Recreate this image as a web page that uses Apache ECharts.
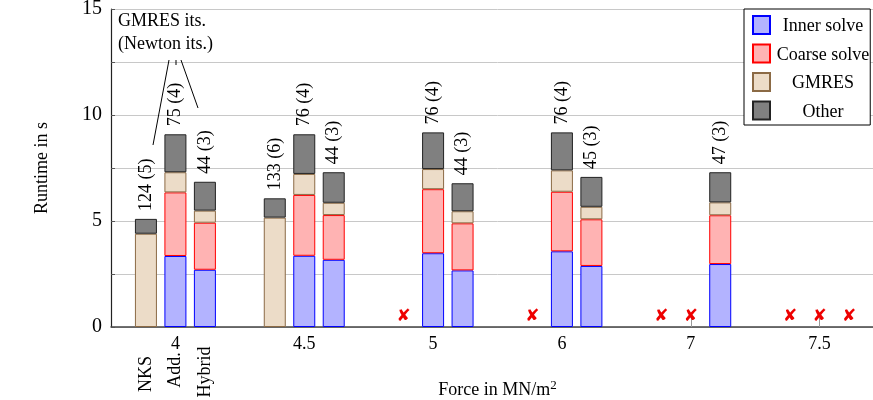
<!DOCTYPE html>
<html>
<head>
<meta charset="utf-8">
<script src="https://cdn.jsdelivr.net/npm/echarts@6/dist/echarts.min.js"></script>
<style>html,body{margin:0;padding:0;background:#fff;overflow:hidden;width:873px;height:400px}#c{width:885px;height:400px}</style>
</head>
<body>
<div id="c"></div>
<script>
// ---- data ----
const categories = ['4', '4.5', '5', '6', '7', '7.5'];
const methods = ['NKS', 'Add.', 'Hybrid'];
const components = ['Inner solve', 'Coarse solve', 'GMRES', 'Other'];
const yTicks = [0, 5, 10, 15];

// null = run failed (marked with a red cross)
const nksInner  = [null, null, null, null, null, null];
const nksCoarse = [null, null, null, null, null, null];
const nksGmres  = [4.40, 5.16, null, null, null, null];
const nksOther  = [0.70, 0.91, null, null, null, null];
const nksIts    = ['124 (5)', '133 (6)', null, null, null, null];

const addInner  = [3.35, 3.36, 3.48, 3.57, null, null];
const addCoarse = [3.00, 2.87, 3.02, 2.81, null, null];
const addGmres  = [0.95, 0.99, 0.95, 1.01, null, null];
const addOther  = [1.79, 1.87, 1.73, 1.79, null, null];
const addIts    = ['75 (4)', '76 (4)', '76 (4)', '76 (4)', null, null];

const hybInner  = [2.70, 3.17, 2.67, 2.88, 2.97, null];
const hybCoarse = [2.22, 2.11, 2.22, 2.20, 2.30, null];
const hybGmres  = [0.57, 0.58, 0.57, 0.59, 0.61, null];
const hybOther  = [1.36, 1.44, 1.32, 1.41, 1.42, null];
const hybIts    = ['44 (3)', '44 (3)', '44 (3)', '45 (3)', '47 (3)', null];

// ---- styling ----
const FONT = 'Liberation Serif';
const styles = {
  'Inner solve':  { color: '#b3b3ff', borderColor: '#0000ff' },
  'Coarse solve': { color: '#ffb3b3', borderColor: '#ff0000' },
  'GMRES':        { color: '#ecdcc8', borderColor: '#8b6a45' },
  'Other':        { color: '#808080', borderColor: '#222222' }
};

const stacks = [
  { name: methods[0], parts: [nksInner, nksCoarse, nksGmres, nksOther], its: nksIts },
  { name: methods[1], parts: [addInner, addCoarse, addGmres, addOther], its: addIts },
  { name: methods[2], parts: [hybInner, hybCoarse, hybGmres, hybOther], its: hybIts }
];

const series = [];
stacks.forEach(st => {
  components.forEach((comp, ci) => {
    const vals = st.parts[ci];
    const isTop = ci === components.length - 1;
    let data;
    if (isTop) {
      data = vals.map((v, i) => {
        if (v === null) {
          return {
            value: 0,
            itemStyle: { color: 'transparent', borderColor: 'transparent' },
            label: {
              show: true, formatter: '\u2718', rotate: 0, color: '#ee0000',
              fontSize: 17, fontFamily: 'DejaVu Sans',
              position: 'top', distance: 1, align: 'center', verticalAlign: 'bottom'
            }
          };
        }
        return { value: v, label: { show: true, formatter: st.its[i] } };
      });
    } else {
      data = vals.map(v => (v === null ? '-' : v));
    }
    series.push({
      type: 'bar',
      name: comp,
      stack: st.name,
      data: data,
      barWidth: 22,
      barGap: '34%',
      itemStyle: Object.assign({ borderWidth: 1 }, styles[comp]),
      emphasis: { disabled: true },
      label: isTop ? {
        show: true, position: 'top', rotate: 90, align: 'left', verticalAlign: 'middle',
        distance: 8, fontSize: 18, fontFamily: FONT, color: '#000'
      } : { show: false }
    });
  });
});

const chart = echarts.init(document.getElementById('c'), null, { renderer: 'canvas' });
chart.setOption({
  animation: false,
  backgroundColor: '#fff',
  textStyle: { fontFamily: FONT },
  grid: { left: 111, right: 1, top: 9, bottom: 73, containLabel: false, outerBoundsMode: 'none' },
  legend: {
    data: components,
    orient: 'vertical',
    left: 744, top: 9,
    padding: [6, 1, 4, 8],
    itemWidth: 17, itemHeight: 18, itemGap: 8,
    icon: 'rect',
    borderColor: '#000', borderWidth: 1,
    backgroundColor: '#fff',
    formatter: '{a|{name}}',
    textStyle: { fontFamily: FONT, fontSize: 18, color: '#000',
      rich: { a: { width: 96, align: 'center', fontSize: 18, fontFamily: FONT, color: '#000', padding: [3, 0, 0, 0] } } },
    selectedMode: false
  },
  xAxis: {
    type: 'category',
    data: categories,
    name: 'Force in MN/m{sup|2}',
    nameLocation: 'middle',
    nameGap: 52,
    nameTextStyle: { fontSize: 18, fontFamily: FONT, color: '#000',
      rich: { sup: { fontSize: 13, fontFamily: FONT, color: '#000', padding: [0, 0, 9, 0] } } },
    axisLine: { lineStyle: { color: '#444', width: 1.5 } },
    axisTick: { show: true, inside: true, alignWithLabel: true, length: 9, lineStyle: { color: '#999' } },
    axisLabel: { fontSize: 18, fontFamily: FONT, color: '#000', margin: 8 },
    splitLine: { show: false }
  },
  yAxis: {
    type: 'value',
    min: 0, max: 15, interval: 2.5,
    name: 'Runtime in s',
    nameLocation: 'middle',
    nameGap: 60,
    nameTextStyle: { fontSize: 18, fontFamily: FONT, color: '#000' },
    axisLine: { show: true, lineStyle: { color: '#222', width: 1.2 } },
    axisTick: { show: true, inside: true, length: 4, lineStyle: { color: '#555' } },
    axisLabel: {
      fontSize: 20, fontFamily: FONT, color: '#000', margin: 9,
      formatter: v => (yTicks.indexOf(v) >= 0 ? String(v) : '')
    },
    splitLine: { lineStyle: { color: '#c8c8c8', width: 1 } }
  },
  series: series
});

// method labels under the first group and the annotation
const base = chart.convertToPixel({ xAxisIndex: 0 }, categories[0]);
const offs = [-29.5, 0, 29.5];
const methodY = [374, 370, 372];
const graphics = methods.map((m, i) => ({
  type: 'text',
  x: base + offs[i], y: methodY[i],
  rotation: Math.PI / 2,
  style: { text: m, fontSize: 18, fontFamily: FONT, fill: '#000', align: 'center', verticalAlign: 'middle' },
  z: 100
}));
graphics.push({
  type: 'text', left: 118, top: 10,
  style: { text: 'GMRES its.\n(Newton its.)', fontSize: 18, fontFamily: FONT, fill: '#000', lineHeight: 23 },
  z: 100
});
graphics.push({ type: 'line', shape: { x1: 169, y1: 60, x2: 153, y2: 145 }, style: { stroke: '#000', lineWidth: 1 }, z: 100 });
graphics.push({ type: 'line', shape: { x1: 176, y1: 60, x2: 176, y2: 65 }, style: { stroke: '#000', lineWidth: 1 }, z: 100 });
graphics.push({ type: 'line', shape: { x1: 181, y1: 60, x2: 198, y2: 108 }, style: { stroke: '#000', lineWidth: 1 }, z: 100 });
chart.setOption({ graphic: graphics });
</script>
</body>
</html>
